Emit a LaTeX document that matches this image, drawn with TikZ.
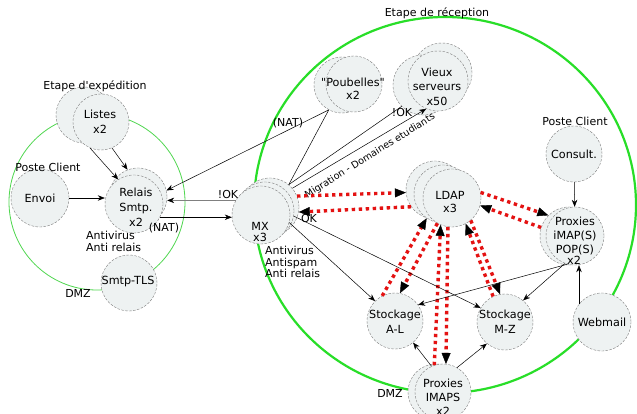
\documentclass[tikz,border=0pt]{standalone}
\usepackage{fontspec}
\setmainfont{DejaVu Sans}
\newfontfamily\dvp{DejaVu Sans}
\usetikzlibrary{arrows.meta}
\definecolor{nodefill}{RGB}{238,242,242}
\definecolor{nodeborder}{RGB}{125,125,125}
\definecolor{biggreen}{RGB}{40,222,40}
\definecolor{smallgreen}{RGB}{80,215,80}
\definecolor{dotred}{RGB}{228,18,18}
\begin{document}
\begin{tikzpicture}[x=1pt,y=-1pt,
  bub/.style={circle, draw=nodeborder, fill=nodefill, dash pattern=on 2.5pt off 1.5pt,
    line width=0.4pt, minimum size=#1, inner sep=0pt},
  bub/.default=58pt,
  txt/.style={inner sep=0pt, align=center, font=\fontsize{11.2}{14}\selectfont},
  lbl/.style={inner sep=0pt, font=\fontsize{11}{12}\selectfont},
  arr/.style={-{Stealth[length=7pt,width=5.5pt,black]}, line width=0.5pt, black},
  ln/.style={line width=0.5pt, black},
  ldapln/.style={dotred, line width=3.4pt, dash pattern=on 3.4pt off 3.6pt,
    -{Triangle[length=11pt,width=9pt,line width=0.4pt,color=black,fill=black]}},
]
\useasboundingbox (0,0) rectangle (637,414);
\fill[white] (0,0) rectangle (637,414);

% zones
\draw[smallgreen, line width=0.8pt] (97,202) circle[radius=88pt];
\draw[biggreen, line width=2.2pt] (445,205) ellipse[x radius=191pt, y radius=188pt];

% left side nodes
\node[bub=56pt] (listesB) at (84,115) {};
\node[bub=56pt] (listes) at (101,122) {};
\node[txt, font=\fontsize{11.2}{15}\selectfont] (listesT) at (100,122) {Listes\\x2};
\node[bub] (relaisB) at (138,197) {};
\node[bub] (relais) at (134,204) {};
\node[txt, font=\fontsize{11.2}{15}\selectfont] (relaisT) at (136,207) {Relais\\Smtp.\\x2};
\node[bub] (envoi) at (40,198) {};
\node[txt] (envoiT) at (40,198) {Envoi};
\node[bub=56pt] (smtptls) at (129,283) {};
\node[txt] (smtptlsT) at (128,282) {Smtp-TLS};

% reception nodes
\node[bub] (mxB2) at (270,207) {};
\node[bub] (mxB1) at (265,211) {};
\node[bub] (mx) at (261,215) {};
\node[txt, font=\fontsize{11.2}{10.5}\selectfont] (mxT) at (260,232) {MX\\x3};

\node[bub=56pt] (poubB) at (342,85) {};
\node[bub=56pt] (poub) at (354,84) {};
\node[txt, font=\fontsize{11.2}{13}\selectfont] (poubT) at (353,89) {{\dvp"}Poubelles{\dvp"}\\x2};

\node[bub=60pt] (vieuxT) at (442,73) {};
\node[bub=60pt] (vieuxL) at (423,85) {};
\node[bub=60pt] (vieux) at (438,81) {};
\node[txt, font=\fontsize{11.2}{14.5}\selectfont] (vieuxTx) at (437,86.5) {Vieux\\serveurs\\x50};

\node[bub] (ldapB2) at (435,190) {};
\node[bub] (ldapB1) at (443,194) {};
\node[bub] (ldap) at (452,198) {};
\node[txt, font=\fontsize{11.2}{12.5}\selectfont] (ldapT) at (450,202) {LDAP\\x3};

\node[bub=56pt] (consult) at (574,154) {};
\node[txt] (consultT) at (574,154) {Consult.};

\node[bub] (proxB) at (569,236) {};
\node[bub] (prox) at (575,236) {};
\node[txt] (proxT) at (575,236) {Proxies\\iMAP(S)\\POP(S)};
\node[txt] (proxX) at (574,260) {x2};

\node[bub] (webmail) at (602,322) {};
\node[txt] (webmailT) at (602,322) {Webmail};

\node[bub=56pt] (stockMZ) at (505,322) {};
\node[txt, font=\fontsize{11.2}{15}\selectfont] (stockMZT) at (505,322) {Stockage\\M-Z};
\node[bub=56pt] (stockAL) at (395,321) {};
\node[txt, font=\fontsize{11.2}{15}\selectfont] (stockALT) at (395,322) {Stockage\\A-L};

\node[bub=56pt] (imapsB) at (436,392) {};
\node[bub=56pt] (imaps) at (443,392) {};
\node[txt] (imapsT) at (443,397) {Proxies\\IMAPS\\x2};

% labels
\node[lbl] (lexp) at (95,86) {Etape d{\dvp'}expédition};
\node[lbl] (lposte1) at (48,167) {Poste Client};
\node[lbl, align=left, anchor=west, font=\fontsize{11}{12}\selectfont] (lav1) at (86,241) {Antivirus\\Anti relais};
\node[lbl] (lnat1) at (164,228) {(NAT)};
\node[lbl] (ldmz1) at (78,293) {DMZ};
\node[lbl] (lnat2) at (288,123) {(NAT)};
\node[lbl] (lnok1) at (228,194) {!OK};
\node[lbl] (lok) at (309,218) {OK};
\node[lbl] (lnok2) at (402,112) {!OK};
\node[lbl] (lrec) at (437,13) {Etape de réception};
\node[lbl] (lposte2) at (575,121) {Poste Client};
\node[lbl] (ldmz2) at (390,393) {DMZ};
\node[lbl, align=left, anchor=west, font=\fontsize{11}{11.5}\selectfont] (lav2) at (265,262) {Antivirus\\Antispam\\Anti relais};
\node[lbl, rotate=32, font=\fontsize{9.6}{11}\selectfont] (lmig) at (370,156) {Migration - Domaines etudiants};

% red LDAP links
\draw[ldapln] (mxB2.22) -- (ldapB2.185);
\draw[ldapln] (ldapB2.215) -- (mxB2.-10);
\draw[ldapln] (ldap.11) -- (proxB.135);
\draw[ldapln] (proxB.163) -- (ldap.-15);
\draw[ldapln] (stockAL.117) -- (ldapB1.236);
\draw[ldapln] (ldap.240) -- (stockAL.80);
\draw[ldapln] (imaps.108) -- (ldap.247);
\draw[ldapln] (ldap.262) -- (imaps.84);
\draw[ldapln] (stockMZ.115) -- (ldap.-62);
\draw[ldapln] (ldap.-50) -- (stockMZ.100);

% black links
\draw[arr] (envoi.east) -- (envoi.east -| relais.west);
\draw[arr] (listes.-113) -- (relais.123);
\draw[arr] (listes.-67) -- (relaisB.111);
\draw[arr] (poubB.-118) -- (relaisB.13);
\draw[arr, draw=gray] (mx.150) -- (mx.150 -| relaisB.east);
\draw[arr] (relais.-27) -- (relais.-27 -| mx.west);
\draw[ln] (mxB2.50) -- (poubB.-118);
\draw[ln] (mxB2.50) -- (vieuxL.-135);
\draw[arr] (mxB2.40) -- (vieux.-113);
\draw[arr] (mx.-15) -- (stockAL.135);
\draw[arr] (mxB1.-10) -- (stockMZ.150);
\draw[arr] (prox.-105) -- (stockAL.35);
\draw[arr] (prox.-110) -- (stockMZ.50);
\draw[arr] (webmail.142) -- (webmail.142 |- prox.south);
\draw[arr] (consult) -- (prox);
\draw[arr] (imaps.114) -- (stockAL.-50);
\draw[arr] (imaps.60) -- (stockMZ.230);
\end{tikzpicture}
\end{document}
